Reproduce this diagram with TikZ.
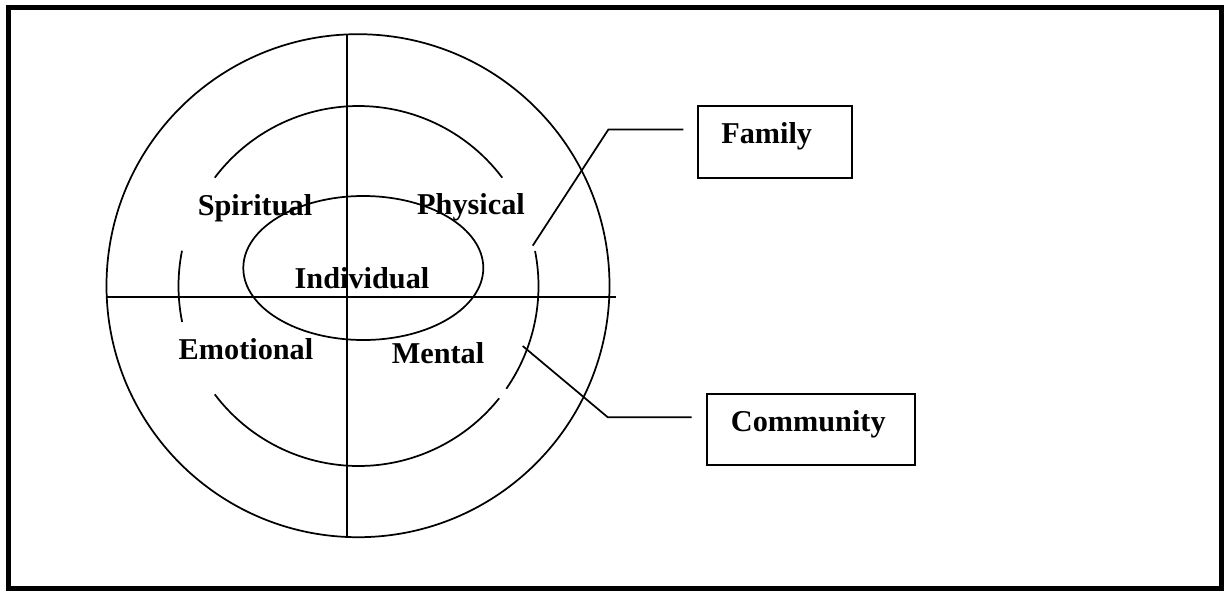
\documentclass[tikz,border=0pt]{standalone}
\usepackage{fontspec}
\setmainfont{Liberation Serif}
\begin{document}
\begin{tikzpicture}[x=0.75pt,y=-0.75pt,
  ring/.style={line width=1.3pt},
  axis/.style={line width=1.6pt},
  lead/.style={line width=1.3pt},
  boxshape/.style={draw,line width=1.5pt,rectangle,inner sep=0pt},
  lbl/.style={font=\fontsize{22.7}{27}\selectfont\bfseries,inner sep=0pt,anchor=base}]
\useasboundingbox (0,0) rectangle (1224,590);
% frame
\draw[line width=3.75pt] (8.5,7) rectangle (1221.5,588);
% outer circle
\draw[ring] (358,285.7) circle[radius=251.5];
% middle broken circle (center 358.5,286 ; r=180)
\draw[ring] (358.5,286) ++(-37:180) arc[start angle=-37,end angle=-143,radius=180];
\draw[ring] (358.5,286) ++(-168.7:180) arc[start angle=-168.7,end angle=-191.5,radius=180];
\draw[ring] (358.5,286) ++(-217:180) arc[start angle=-217,end angle=-321.4,radius=180];
\draw[ring] (358.5,286) ++(34.8:180) arc[start angle=34.8,end angle=-11.2,radius=180];
% inner ellipse
\draw[ring] (363.3,268) ellipse[x radius=120,y radius=72];
% axes
\coordinate (vtop) at (346.7,34);
\coordinate (vbot) at (346.7,537.3);
\coordinate (hleft) at (106.7,297.3);
\coordinate (hright) at (616,297.3);
\draw[axis] (vtop) -- (vbot);
\draw[axis] (hleft) -- (hright);
% labels
\node[lbl] (spiritual) at (255,215) {Spiritual};
\node[lbl] (physical) at (471,214.3) {Physical};
\node[lbl] (individual) at (362,288) {Individual};
\node[lbl] (emotional) at (246,359) {Emotional};
\node[lbl] (mental) at (438,363.3) {Mental};
% boxes
\node[boxshape,minimum width=153.4*0.75pt,minimum height=72*0.75pt] (familybox) at (775,141.7) {};
\node[lbl,anchor=base west] (family) at (721,143.3) {Family};
\node[boxshape,minimum width=208.3*0.75pt,minimum height=71*0.75pt] (communitybox) at (810.8,429.5) {};
\node[lbl,anchor=base west] (community) at (730.7,431.7) {Community};
% leaders
\coordinate (fstart) at (532.7,245.7);
\coordinate (fcorner) at (608.3,129.6);
\coordinate (fend) at (683.3,129.6);
\draw[lead] (fstart) -- (fcorner) -- (fend);
\coordinate (cstart) at (522.7,346);
\coordinate (ccorner) at (607.7,417.2);
\coordinate (cend) at (691.7,417.2);
\draw[lead] (cstart) -- (ccorner) -- (cend);
\end{tikzpicture}
\end{document}
